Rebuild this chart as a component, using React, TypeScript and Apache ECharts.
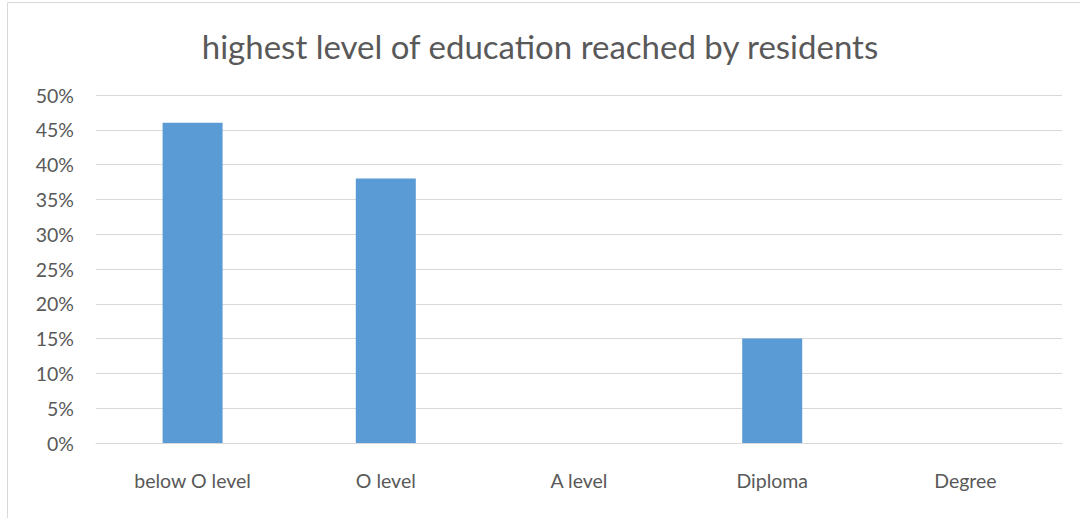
import React, { useEffect, useRef } from "react";
import * as echarts from "echarts";

const categories = ["below O level", "O level", "A level", "Diploma", "Degree"];
const values = [46, 38, 0, 15, 0];
const titleText = "highest level of education reached by residents";

export default function App() {
  const ref = useRef<HTMLDivElement>(null);
  useEffect(() => {
    if (!ref.current) return;
    const chart = echarts.init(ref.current, null, { renderer: "svg" });
    chart.setOption({
      animation: false,
      backgroundColor: "#ffffff",
      title: {
        text: titleText,
        left: "center",
        top: 24,
        textStyle: { fontFamily: "Lato", fontSize: 33, fontWeight: "normal", color: "#595959" },
      },
      graphic: [
        {
          type: "rect",
          shape: { x: 7.5, y: 2.5, width: 1090, height: 530 },
          style: { fill: "none", stroke: "#d9d9d9", lineWidth: 1 },
          silent: true,
        },
      ],
      grid: { left: 96, right: 18, top: 95, bottom: 75 },
      xAxis: {
        type: "category",
        data: categories,
        axisLine: { show: true, lineStyle: { color: "#d9d9d9", width: 1 } },
        axisTick: { show: false },
        axisLabel: { fontFamily: "Lato", fontSize: 19.5, color: "#595959", margin: 27 },
      },
      yAxis: {
        type: "value",
        min: 0,
        max: 50,
        interval: 5,
        axisLine: { show: false },
        axisTick: { show: false },
        splitLine: { lineStyle: { color: "#d9d9d9", width: 1 } },
        axisLabel: { fontFamily: "Lato", fontSize: 19.5, color: "#595959", margin: 22, formatter: "{value}%" },
      },
      series: [
        {
          type: "bar",
          data: values,
          barWidth: 60,
          itemStyle: { color: "#5b9bd5" },
        },
      ],
    });
    return () => chart.dispose();
  }, []);
  return <div ref={ref} style={{ position: "absolute", left: 0, top: 0, width: 1080, height: 518 }} />;
}
